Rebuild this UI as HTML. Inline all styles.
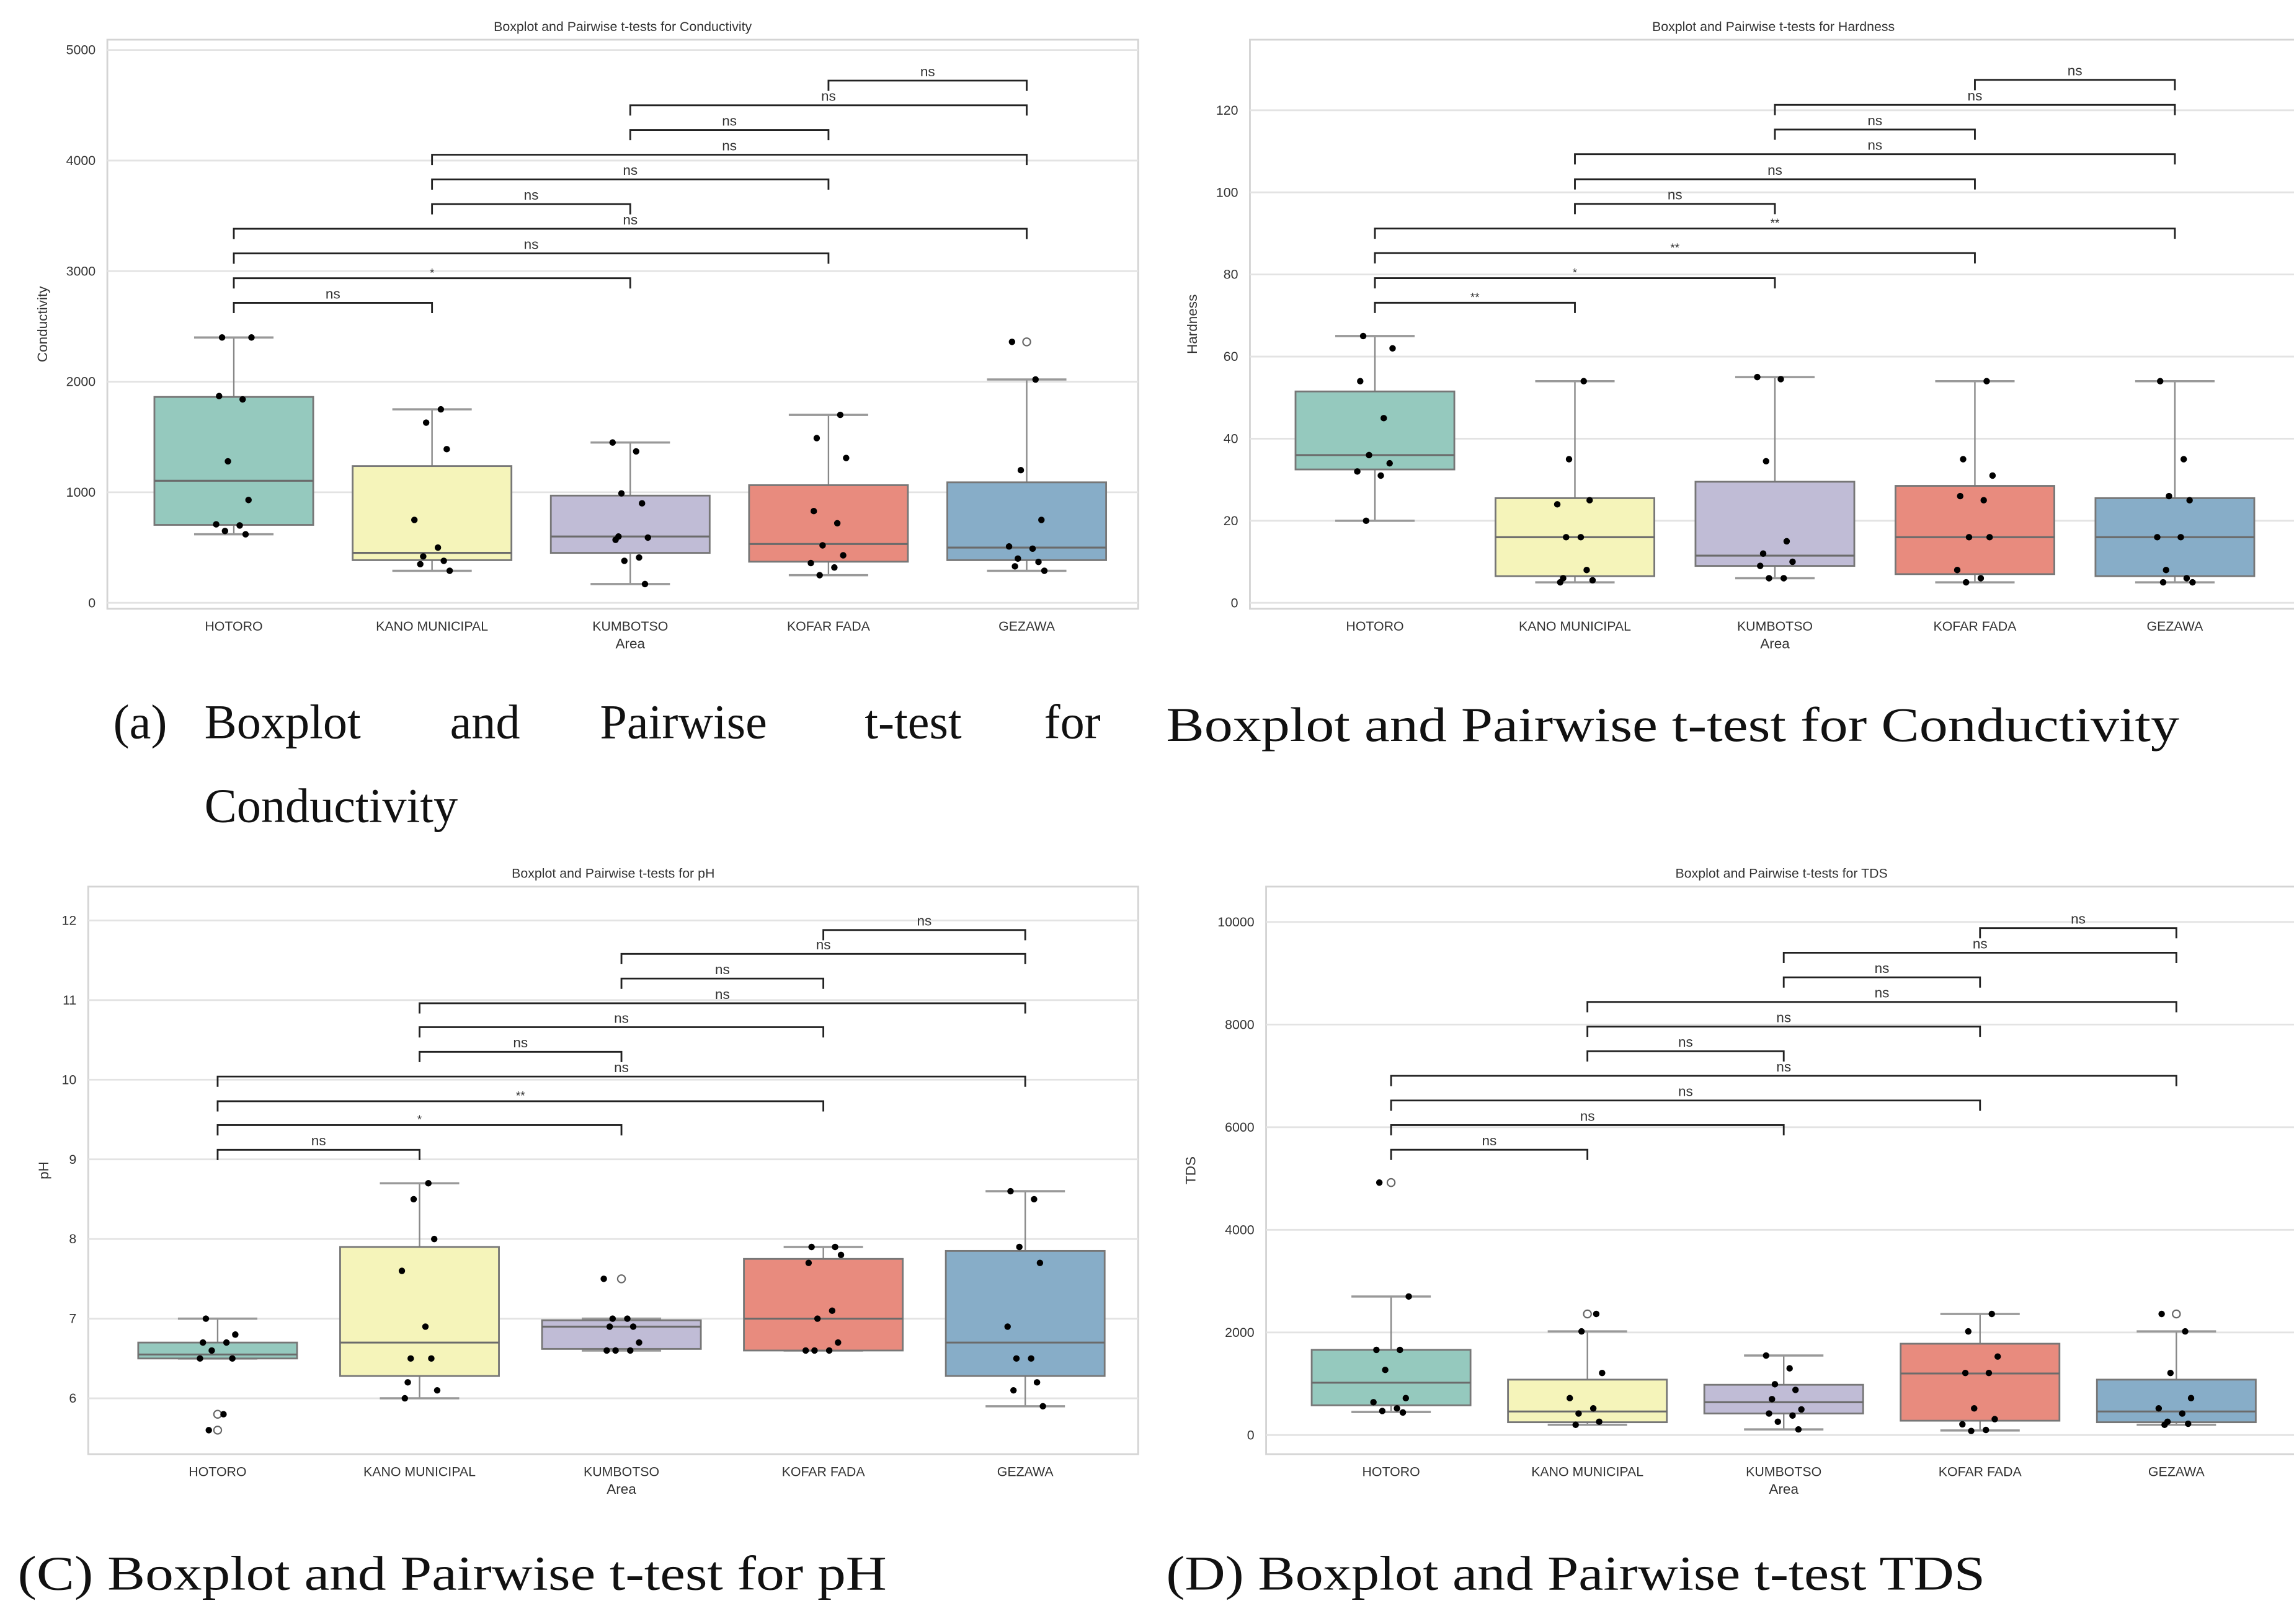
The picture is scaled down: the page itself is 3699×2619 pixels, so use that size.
<!DOCTYPE html>
<html><head><meta charset="utf-8">
<style>
html,body{margin:0;padding:0;background:#fff;}
svg{display:block;}
</style></head>
<body>
<svg id="fig" xmlns="http://www.w3.org/2000/svg" width="3699" height="2619" viewBox="0 0 1560 1104.5" preserveAspectRatio="none" font-family="Liberation Sans, sans-serif"></svg>
<script>
const categories=["HOTORO","KANO MUNICIPAL","KUMBOTSO","KOFAR FADA","GEZAWA"];
const pairFrom=[0,0,0,0,1,1,1,2,2,3];
const pairTo=[1,2,3,4,2,3,4,3,4,4];

// Conductivity
const condLo=[620,290,170,250,290];
const condQ1=[705,386,452,372,386];
const condMed=[1104,452,600,532,500];
const condQ3=[1862,1237,970,1064,1090];
const condHi=[2400,1750,1450,1700,2020];
const condPts=[[2400,2400,1870,1840,1280,930,710,700,650,620],[1750,1630,1390,750,500,420,380,350,290],[1450,1370,990,900,600,590,570,410,380,170],[1700,1490,1310,830,720,520,430,360,320,250],[2360,2020,1200,750,510,490,400,370,330,290]];
const condOut=[[],[],[],[],[2360]];
const condBrH=[2713,2936,3160,3383,3606,3830,4053,4277,4500,4723];
const condBrLab=["ns","*","ns","ns","ns","ns","ns","ns","ns","ns"];
const condTicks=[0,1000,2000,3000,4000,5000];

// Hardness
const hardLo=[20,5,6,5,5];
const hardQ1=[32.5,6.5,9,7,6.5];
const hardMed=[36,16,11.5,16,16];
const hardQ3=[51.5,25.5,29.5,28.5,25.5];
const hardHi=[65,54,55,54,54];
const hardPts=[[65,62,54,45,36,34,32,31,20],[54,35,25,24,16,16,8,6,5.5,5],[55,54.5,34.5,15,12,10,9,6,6],[54,35,31,26,25,16,16,8,6,5],[54,35,26,25,16,16,8,6,5,5]];
const hardOut=[[],[],[],[],[]];
const hardBrH=[73.1,79.1,85.2,91.2,97.2,103.2,109.3,115.3,121.3,127.4];
const hardBrLab=["**","*","**","**","ns","ns","ns","ns","ns","ns"];
const hardTicks=[0,20,40,60,80,100,120];

// pH
const phLo=[6.5,6.0,6.6,6.6,5.9];
const phQ1=[6.5,6.28,6.62,6.6,6.28];
const phMed=[6.55,6.7,6.9,7.0,6.7];
const phQ3=[6.7,7.9,6.98,7.75,7.85];
const phHi=[7.0,8.7,7.0,7.9,8.6];
const phPts=[[7.0,6.8,6.7,6.7,6.6,6.5,6.5,5.8,5.6],[8.7,8.5,8.0,7.6,6.9,6.5,6.5,6.2,6.1,6.0],[7.5,7.0,7.0,6.9,6.9,6.7,6.6,6.6,6.6],[7.9,7.9,7.8,7.7,7.1,7.0,6.7,6.6,6.6,6.6],[8.6,8.5,7.9,7.7,6.9,6.5,6.5,6.2,6.1,5.9]];
const phOut=[[5.8,5.6],[],[7.5],[],[]];
const phBrH=[9.12,9.43,9.73,10.04,10.35,10.66,10.96,11.27,11.58,11.88];
const phBrLab=["ns","*","**","ns","ns","ns","ns","ns","ns","ns"];
const phTicks=[6,7,8,9,10,11,12];

// TDS
const tdsLo=[450,200,110,90,200];
const tdsQ1=[580,250,420,280,250];
const tdsMed=[1020,460,640,1200,460];
const tdsQ3=[1660,1080,980,1780,1080];
const tdsHi=[2700,2020,1550,2360,2020];
const tdsPts=[[4920,2700,1660,1660,1270,720,640,520,470,440],[2360,2020,1210,720,520,420,260,200],[1550,1300,990,880,700,500,420,380,260,110],[2360,2020,1530,1210,1210,520,310,210,100,80],[2360,2020,1210,720,520,420,260,220,200]];
const tdsOut=[[4920],[2360],[],[],[2360]];
const tdsBrH=[5560,6040,6520,7000,7480,7960,8440,8920,9400,9880];
const tdsBrLab=["ns","ns","ns","ns","ns","ns","ns","ns","ns","ns"];
const tdsTicks=[0,2000,4000,6000,8000,10000];

const fills=["#95c9be","#f5f4ba","#c0bcd6","#e88b7e","#87adc8"];
const jit=[-8,12,-10,6,-4,10,-12,4,-6,8];

const svg=document.getElementById('fig');
const NS="http://www.w3.org/2000/svg";
function mk(tag,attrs,parent){const e=document.createElementNS(NS,tag);for(const k in attrs)e.setAttribute(k,attrs[k]);(parent||svg).appendChild(e);return e;}

function panel(key,g,title,ylabel,lo,q1,med,q3,hi,pts,outs,brH,brLab,ticks){
  const grp=mk('g',{});
  
  
  const Y=v=>g.y0-(v-g.v0)*(g.y1-g.y0)/(g.v1-g.v0)*-1;
  const yS=v=>g.y0+(v-g.v0)*(g.y1-g.y0)/(g.v1-g.v0);
  const X=i=>g.x0+i*g.dx;
  const fr=mk('rect',{x:g.left,y:g.top,width:g.right-g.left,height:g.bottom-g.top,fill:'#fff',stroke:'#d4d4d4','stroke-width':1.2},grp);
  
  
  ticks.forEach(t=>{
    const gl=mk('line',{x1:g.left,x2:g.right,y1:yS(t),y2:yS(t),stroke:'#e3e3e3','stroke-width':1.2},grp);
    
    
    const tl=mk('text',{x:g.left-8,y:yS(t)+3,'text-anchor':'end','font-size':9,fill:'#333'},grp);
    tl.textContent=t;
    
    
  });
  const tt=mk('text',{x:(g.left+g.right)/2,y:g.top-6,'text-anchor':'middle','font-size':9,fill:'#333'},grp);
  tt.textContent=title;
  
  
  const yl=mk('text',{x:0,y:0,'text-anchor':'middle','font-size':9.5,fill:'#333',transform:`translate(${g.ylx},${(g.top+g.bottom)/2}) rotate(-90)`},grp);
  yl.textContent=ylabel;
  
  
  const xl=mk('text',{x:X(2),y:g.bottom+27,'text-anchor':'middle','font-size':9.5,fill:'#333'},grp);
  xl.textContent='Area';
  
  
  const bw=108;
  categories.forEach((c,i)=>{
    const cx=X(i);
    const lab=mk('text',{x:cx,y:g.bottom+15,'text-anchor':'middle','font-size':9,fill:'#333'},grp);
    lab.textContent=c;
    
    
    const w1=mk('line',{x1:cx,x2:cx,y1:yS(hi[i]),y2:yS(q3[i]),stroke:'#888','stroke-width':1},grp);
    
    
    const w2=mk('line',{x1:cx,x2:cx,y1:yS(q1[i]),y2:yS(lo[i]),stroke:'#888','stroke-width':1},grp);
    
    
    [hi[i],lo[i]].forEach(v=>{
      const cp=mk('line',{x1:cx-27,x2:cx+27,y1:yS(v),y2:yS(v),stroke:'#999','stroke-width':1.5},grp);
      
      
    });
    const bx=mk('rect',{x:cx-bw/2,y:yS(q3[i]),width:bw,height:Math.max(0.5,yS(q1[i])-yS(q3[i])),fill:fills[i],stroke:'#777','stroke-width':1.2},grp);
    
    
    const md=mk('line',{x1:cx-bw/2,x2:cx+bw/2,y1:yS(med[i]),y2:yS(med[i]),stroke:'#6b6b6b','stroke-width':1.3},grp);
    
    
    outs[i].forEach(v=>{
      const oc=mk('circle',{cx:cx,cy:yS(v),r:2.6,fill:'#fff',stroke:'#666','stroke-width':0.9},grp);
      
      
    });
    pts[i].forEach((v,j)=>{
      const p=mk('circle',{cx:cx+jit[(j+i*3)%jit.length],cy:yS(v),r:2.2,fill:'#000'},grp);
      
      
    });
  });
  brH.forEach((h,k)=>{
    const xa=X(pairFrom[k]),xb=X(pairTo[k]),yy=yS(h);
    const br=mk('polyline',{points:`${xa},${yy+7} ${xa},${yy} ${xb},${yy} ${xb},${yy+7}`,fill:'none',stroke:'#222','stroke-width':1.2},grp);
    
    
    const bt=mk('text',{x:(xa+xb)/2,y:yy-(brLab[k]==='ns'?3:1),'text-anchor':'middle','font-size':brLab[k]==='ns'?9.5:8,fill:'#333'},grp);
    bt.textContent=brLab[k];
    
    
  });
}

panel('conductivity',{left:73,right:774,top:27,bottom:414,y0:410,y1:34,v0:0,v1:5000,x0:159,dx:134.8,ylx:32},'Boxplot and Pairwise t-tests for Conductivity','Conductivity',condLo,condQ1,condMed,condQ3,condHi,condPts,condOut,condBrH,condBrLab,condTicks);
panel('hardness',{left:850,right:1562,top:27,bottom:414,y0:410,y1:75,v0:0,v1:120,x0:935,dx:136,ylx:814},'Boxplot and Pairwise t-tests for Hardness','Hardness',hardLo,hardQ1,hardMed,hardQ3,hardHi,hardPts,hardOut,hardBrH,hardBrLab,hardTicks);
panel('ph',{left:60,right:774,top:603,bottom:989,y0:951,y1:626,v0:6,v1:12,x0:148,dx:137.3,ylx:33},'Boxplot and Pairwise t-tests for pH','pH',phLo,phQ1,phMed,phQ3,phHi,phPts,phOut,phBrH,phBrLab,phTicks);
panel('tds',{left:861,right:1562,top:603,bottom:989,y0:976,y1:627,v0:0,v1:10000,x0:946,dx:133.5,ylx:813},'Boxplot and Pairwise t-tests for TDS','TDS',tdsLo,tdsQ1,tdsMed,tdsQ3,tdsHi,tdsPts,tdsOut,tdsBrH,tdsBrLab,tdsTicks);

function cap(name,x,y,txt,len){
  const a={x:x,y:y,'font-size':33,'font-family':'Liberation Serif, serif',fill:'#111'};
  if(len){a.textLength=len;a.lengthAdjust='spacingAndGlyphs';}
  const t=mk('text',a);
  t.textContent=txt;
  
  
}
const capA=[["(a)",77],["Boxplot",139],["and",306],["Pairwise",408],["t-test",588],["for",710]];
capA.forEach(w=>cap('caption-a-word',w[1],502,w[0]));
cap('caption-a-line2',139,559,'Conductivity');
cap('caption-b',793,504,'Boxplot and Pairwise t-test for Conductivity',689);
cap('caption-c',12,1081,'(C) Boxplot and Pairwise t-test for pH',591);
cap('caption-d',793,1081,'(D) Boxplot and Pairwise t-test TDS',557);
</script>
</body></html>
